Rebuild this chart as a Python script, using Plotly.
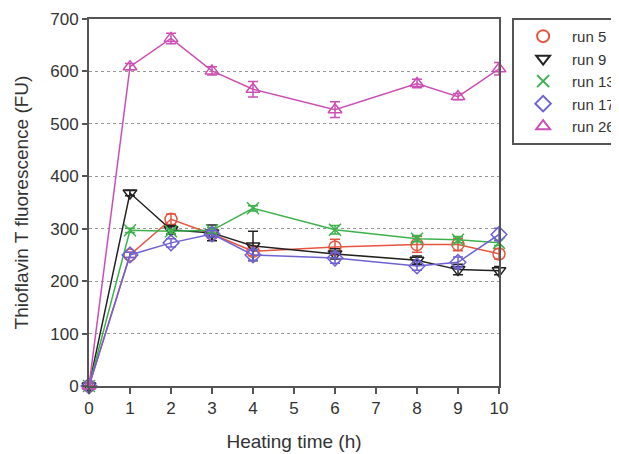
import plotly.graph_objects as go

time_h = [0, 1, 2, 3, 4, 6, 8, 9, 10]

run5 = [0, 250, 318, 290, 257, 265, 270, 270, 252]
run9 = [0, 368, 298, 292, 267, 252, 240, 222, 220]
run13 = [0, 297, 295, 297, 339, 298, 281, 279, 273]
run17 = [0, 250, 273, 290, 250, 244, 229, 236, 289]
run26 = [0, 609, 663, 601, 566, 527, 577, 552, 605]

err5 = [0, 5, 10, 6, 8, 15, 15, 12, 10]
err9 = [0, 5, 8, 15, 28, 10, 8, 10, 8]
err13 = [0, 4, 4, 5, 5, 8, 6, 6, 5]
err17 = [0, 5, 8, 6, 10, 10, 8, 10, 12]
err26 = [0, 6, 10, 8, 15, 15, 8, 6, 12]

names = ["run 5", "run 9", "run 13", "run 17", "run 26"]
series = [run5, run9, run13, run17, run26]
errors = [err5, err9, err13, err17, err26]
colors = ["#E5553F", "#222222", "#3DB14E", "#6F62D2", "#CC4FB5"]
symbols = ["circle-open", "triangle-down-open", "x-thin-open", "diamond-open", "triangle-up-open"]

x_ticks = list(range(0, 11))
y_ticks = list(range(0, 701, 100))

fig = go.Figure()

for name, y, e, c, s in zip(names, series, errors, colors, symbols):
    fig.add_trace(go.Scatter(
        x=time_h, y=y, mode="lines+markers", name=name, showlegend=False,
        line=dict(color=c, width=1.5),
        marker=dict(symbol=s, size=12, color=c, line=dict(color=c, width=1.5)),
        error_y=dict(type="data", array=e, visible=True, color=c, thickness=1.5, width=5),
        cliponaxis=False,
    ))

for name, c, s in zip(names, colors, symbols):
    fig.add_trace(go.Scatter(
        x=[None], y=[None], mode="markers", name=name, showlegend=True,
        marker=dict(symbol=s, size=13, color=c, line=dict(color=c, width=1.5)),
    ))

# page body has an 8px margin; the figure is sized/offset to compensate
fig.update_layout(
    width=611, height=446,
    margin=dict(l=81, r=120, t=11, b=68, autoexpand=False),
    paper_bgcolor="white", plot_bgcolor="white",
    font=dict(family="Liberation Sans, Arial, sans-serif", color="#333333", size=17),
    legend=dict(
        x=1.032, y=1.003, xanchor="left", yanchor="top",
        bordercolor="#555555", borderwidth=2, bgcolor="white",
        font=dict(size=15, color="#333333"),
        itemsizing="constant", itemwidth=48, tracegroupgap=0,
    ),
    xaxis=dict(
        range=[0, 10], tickvals=x_ticks, ticks="outside", ticklen=6, tickwidth=1.5,
        tickcolor="#555555", showline=True, linecolor="#555555", linewidth=2, mirror=True,
        showgrid=False, zeroline=False,
        title=dict(text="Heating time (h)", font=dict(size=19), standoff=17),
        tickfont=dict(size=17),
    ),
    yaxis=dict(
        range=[0, 700], tickvals=y_ticks, ticks="outside", ticklen=5, tickwidth=1.5,
        tickcolor="#555555", showline=True, linecolor="#555555", linewidth=2, mirror=True,
        showgrid=True, gridcolor="#999999", griddash="dot", gridwidth=1.2, zeroline=False,
        title=dict(text="Thioflavin T fluorescence (FU)", font=dict(size=19), standoff=17),
        tickfont=dict(size=17),
    ),
)

fig.write_html("out.html")
